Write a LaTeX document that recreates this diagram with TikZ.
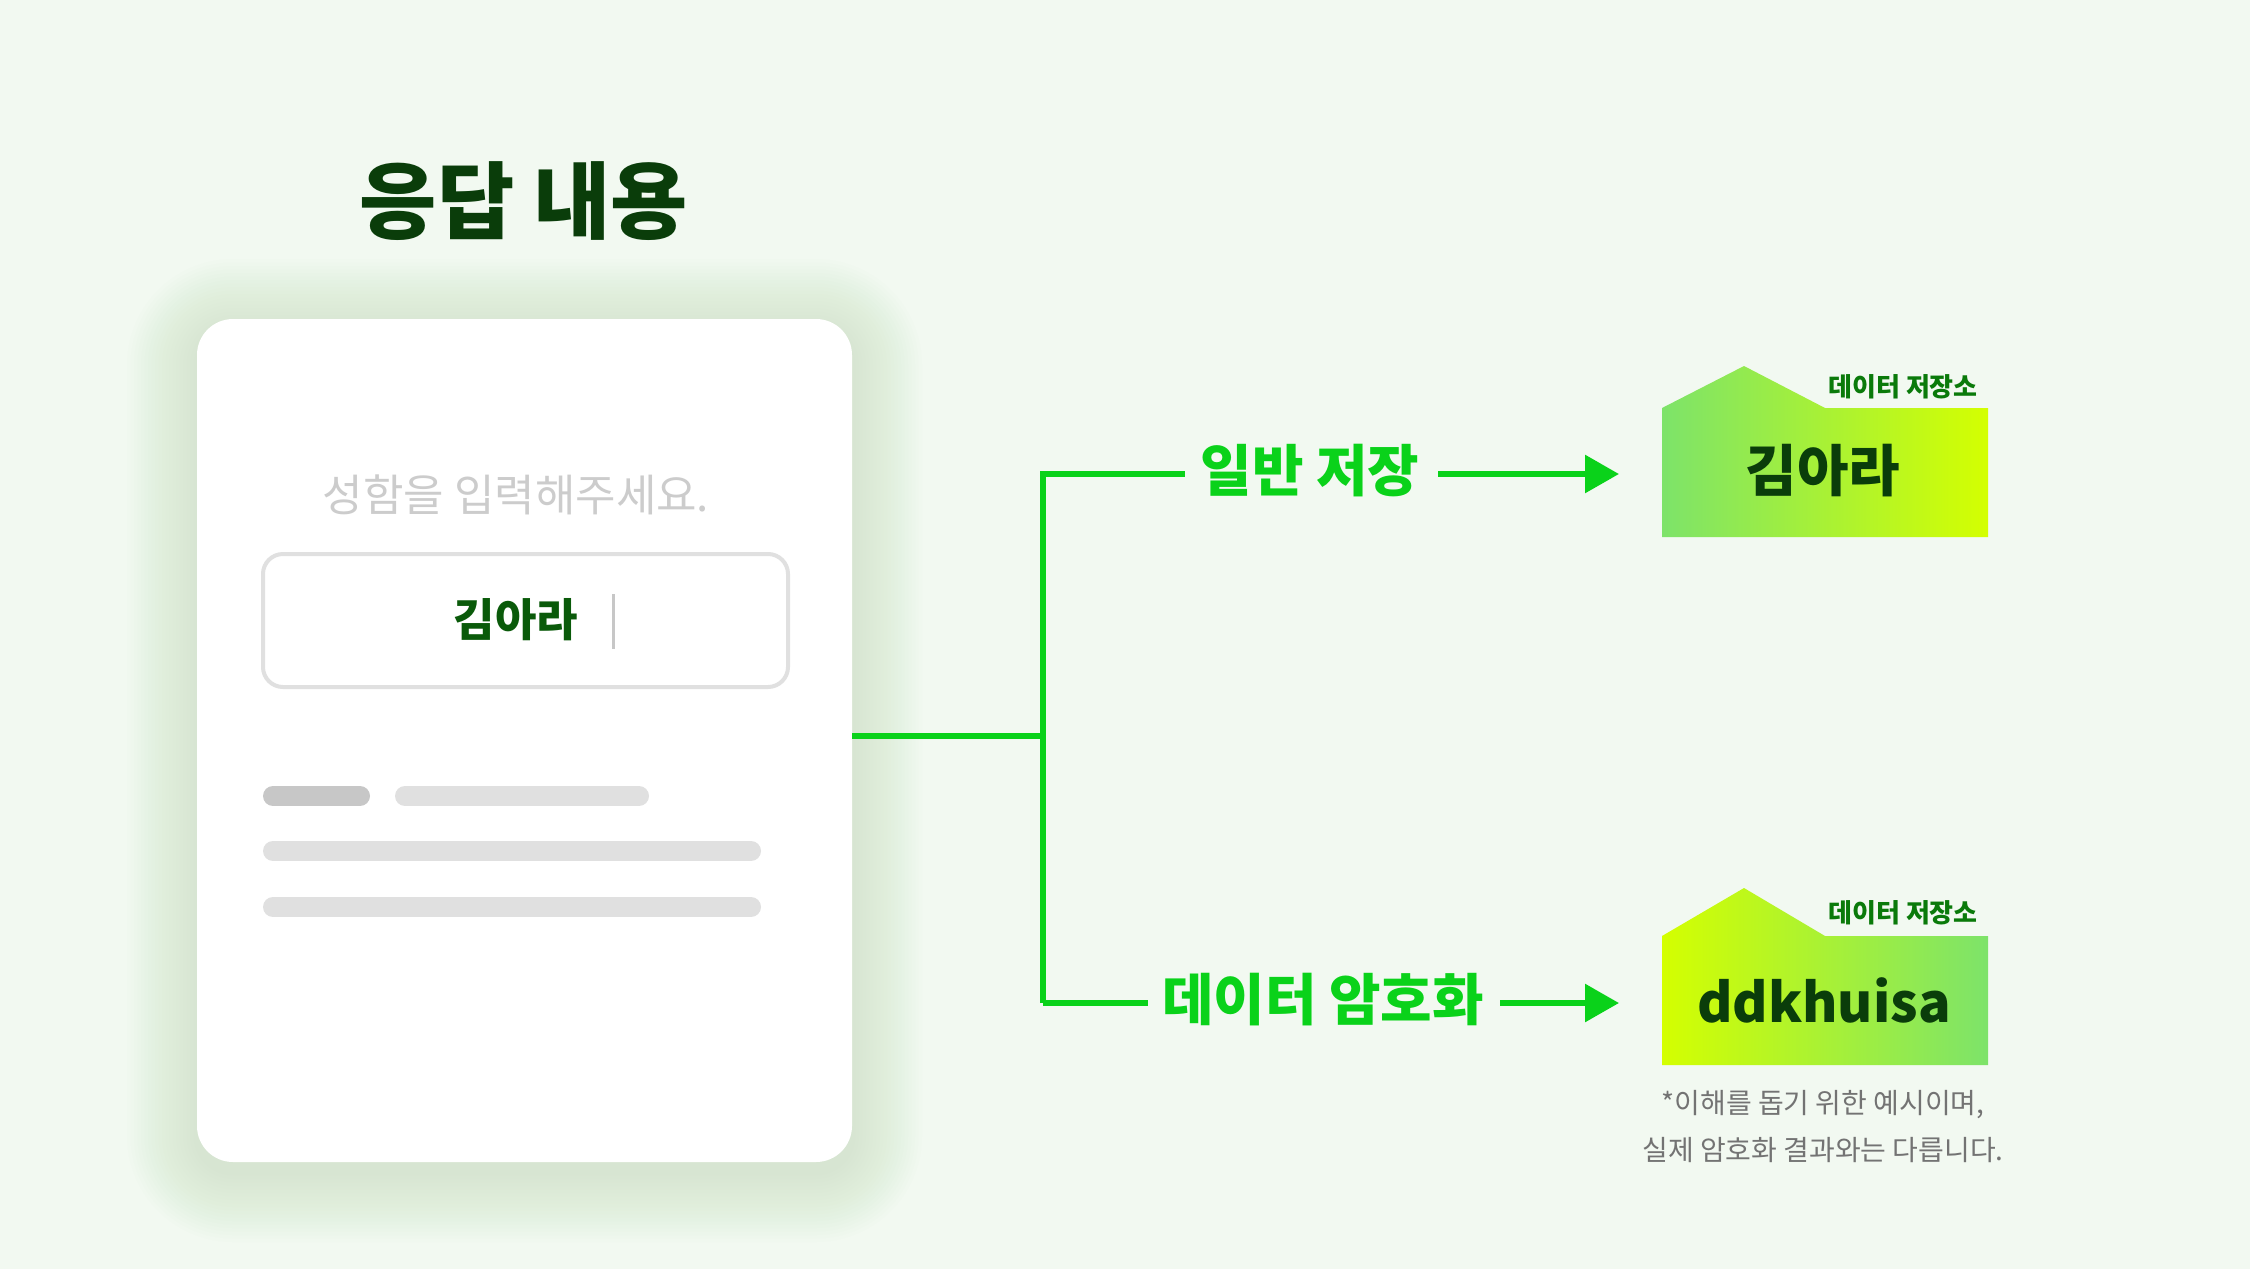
\documentclass[tikz,border=0pt]{standalone}
\usepackage{fontspec}
\setmainfont{Noto Sans CJK KR}
\usetikzlibrary{arrows.meta}
\definecolor{bg}{HTML}{F2F9F1}
\definecolor{glow}{HTML}{C9DFC0}
\definecolor{ttl}{HTML}{0A3D0A}
\definecolor{lg}{HTML}{0AD21A}
\definecolor{fg1}{HTML}{7DE36A}
\definecolor{fg2}{HTML}{D4FF00}
\definecolor{lab}{HTML}{0A7A0A}
\definecolor{nm}{HTML}{0A5A0A}
\tikzset{
  fs/.style={font=\fontsize{#1}{#1}\selectfont\bfseries},
  conn/.style={draw=lg,line width=6pt},
  arr/.style={conn,-{Triangle[length=34pt,width=37pt]}},
  bar/.style={line width=20pt,line cap=round},
}
\begin{document}
\begin{tikzpicture}[x=1pt,y=-1pt]
\useasboundingbox (0,0) rectangle (2250,1269);
\fill[bg] (0,0) rectangle (2250,1269);
% glow
\foreach \i in {1,...,20}{
  \fill[glow,opacity=0.035,rounded corners=36pt+3.5*\i] (197-3.5*\i,319-3.5*\i+10) rectangle (852+3.5*\i,1162+3.5*\i+10);
}
\fill[white,rounded corners=36pt] (197,319) rectangle (852,1162);
\coordinate (cardR) at (852,736);
\node[fs=84,text=ttl] (title) at (524,201) {응답 내용};
\node[font=\fontsize{44}{44}\selectfont,text=black!20] (ph) at (516,495) {성함을 입력해주세요.};
\draw[black!12,line width=4pt,rounded corners=20pt] (263,554) rectangle (788,687);
\node[fs=45,text=nm] (name) at (516,620) {김아라};
\draw[black!22,line width=3pt] (613,594) -- (613,649);
\draw[bar,black!22] (273,796) -- (360,796);
\draw[bar,black!12] (405,796) -- (639,796);
\draw[bar,black!12] (273,851) -- (751,851);
\draw[bar,black!12] (273,907) -- (751,907);
% connectors
\coordinate (j) at (1043,736);
\coordinate (jt) at (1043,474);
\coordinate (jb) at (1043,1003);
\node[fs=56,text=lg,inner sep=0pt] (l1) at (1310,471) {일반 저장};
\node[fs=56,text=lg,inner sep=0pt] (l2) at (1323,1000) {데이터 암호화};
\draw[conn] (cardR) -- (j);
\draw[conn] (jb) -- (jt) -- (1185,474);
\draw[conn] (jb) -- (1148,1003);
\coordinate (a1s) at (1438,474); \coordinate (a2s) at (1500,1003);
\coordinate (f1) at (1619,474); \coordinate (f2) at (1619,1003);
\draw[arr] (a1s) -- (f1);
\draw[arr] (a2s) -- (f2);
% folders
\shade[left color=fg1,right color=fg2] (1662,537) -- (1662,408) -- (1744,366) -- (1825,408) -- (1988,408) -- (1988,537) -- cycle;
\shade[left color=fg2,right color=fg1] (1662,1065) -- (1662,936) -- (1744,888) -- (1825,936) -- (1988,936) -- (1988,1065) -- cycle;
\node[fs=26,text=lab,anchor=east,inner sep=0pt] (s1) at (1978,387) {데이터 저장소};
\node[fs=26,text=lab,anchor=east,inner sep=0pt] (s2) at (1978,913) {데이터 저장소};
\node[fs=56,text=ttl] (v1) at (1823,471) {김아라};
\node[fs=54,text=ttl] (v2) at (1824,1000) {ddkhuisa};
\node[font=\fontsize{28}{28}\selectfont,text=black!55] (n1) at (1823,1105) {*이해를 돕기 위한 예시이며,};
\node[font=\fontsize{28}{28}\selectfont,text=black!55] (n2) at (1823,1150) {실제 암호화 결과와는 다릅니다.};
\end{tikzpicture}
\end{document}
